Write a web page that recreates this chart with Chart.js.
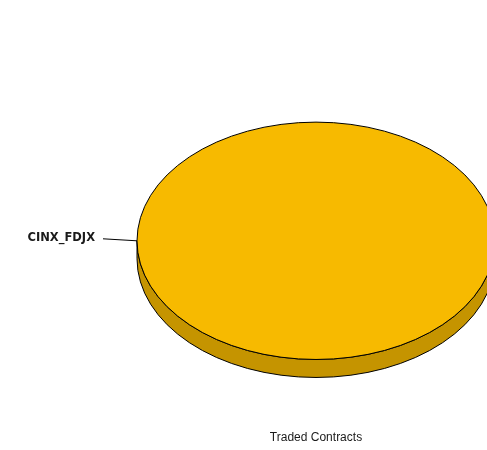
<!DOCTYPE html>
<html>
<head>
<meta charset="utf-8">
<script src="https://cdn.jsdelivr.net/npm/chart.js@4/dist/chart.umd.min.js"></script>
<style>
  html, body { margin: 0; padding: 0; background: #fff; overflow: hidden; }
  #wrap { width: 632px; height: 450px; }
</style>
</head>
<body>
<div id="wrap"><canvas id="pie_chart" width="632" height="450"></canvas></div>
<script>
// data
var contractNames = ["CINX_FDJX"];
var contractCounts = [1];
var sliceColors = ["#f7ba00"];
var sideColors = ["#c59400"];
var chartTitle = "Traded Contracts";

var tilt = 0.663;   // vertical squash of the pie
var depth = 18;     // thickness of the pie edge

// fake 3d: squash the arcs and paint the front wall under them
var pie3d = {
    id: 'pie3d',
    beforeDatasetsDraw: function (chart) {
        var ctx = chart.ctx;
        var arcs = chart.getDatasetMeta(0).data;
        if (!arcs.length) return;
        var cx = arcs[0].x, cy = arcs[0].y, r = arcs[0].outerRadius, ry = r * tilt;
        ctx.save();
        ctx.lineWidth = 1;
        ctx.strokeStyle = "#000";
        arcs.forEach(function (arc, i) {
            var s = arc.startAngle, e = arc.endAngle;
            // only the part that faces us (0..PI) gets a wall
            for (var k = -1; k <= 1; k++) {
                var a0 = Math.max(s, k * 2 * Math.PI);
                var a1 = Math.min(e, k * 2 * Math.PI + Math.PI);
                if (a1 <= a0) continue;
                ctx.beginPath();
                ctx.ellipse(cx, cy, r, ry, 0, a0, a1);
                ctx.ellipse(cx, cy + depth, r, ry, 0, a1, a0, true);
                ctx.closePath();
                ctx.fillStyle = sideColors[i % sideColors.length];
                ctx.fill();
                ctx.stroke();
            }
        });
        ctx.restore();
        ctx.save();
        ctx.translate(cx, cy);
        ctx.scale(1, tilt);
        ctx.translate(-cx, -cy);
    },
    afterDatasetsDraw: function (chart) {
        var ctx = chart.ctx;
        ctx.restore();
        var arcs = chart.getDatasetMeta(0).data;
        if (!arcs.length) return;
        var cx = arcs[0].x, cy = arcs[0].y, r = arcs[0].outerRadius, ry = r * tilt;
        ctx.save();
        ctx.lineWidth = 1;
        ctx.strokeStyle = "#000";
        ctx.beginPath();
        ctx.ellipse(cx, cy, r, ry, 0, 0, 2 * Math.PI);
        ctx.stroke();
        // labels with leader lines
        ctx.font = "bold 11.5px 'DejaVu Sans'";
        ctx.fillStyle = "#1a1a1a";
        ctx.textBaseline = "middle";
        arcs.forEach(function (arc, i) {
            var m = (arc.startAngle + arc.endAngle) / 2;
            var px = cx + r * Math.cos(m), py = cy + ry * Math.sin(m);
            var left = Math.cos(m) < 0;
            var ex = px + (left ? -34 : 34), ey = py - 2;
            ctx.beginPath();
            ctx.moveTo(px, py);
            ctx.lineTo(ex, ey);
            ctx.stroke();
            ctx.textAlign = left ? "right" : "left";
            ctx.fillText(chart.data.labels[i], ex + (left ? -8 : 8), ey - 0.5);
        });
        ctx.restore();
    }
};

var ctx1 = document.getElementById("pie_chart");
var myPieChart = new Chart(ctx1, {
    type: 'pie',
    data: {
        labels: contractNames,
        datasets: [{
            data: contractCounts,
            backgroundColor: sliceColors,
            borderWidth: 0,
            clip: false
        }]
    },
    options: {
        responsive: false,
        animation: false,
        rotation: 90,
        radius: 179,
        layout: { padding: { top: 61, bottom: 0 } },
        plugins: {
            legend: { display: false },
            tooltip: { enabled: false },
            title: {
                display: true,
                text: chartTitle,
                position: 'bottom',
                color: "#1a1a1a",
                font: { family: "'Liberation Sans', Arial, sans-serif", size: 12, weight: 'normal' },
                padding: { top: 10, bottom: 5 }
            }
        }
    },
    plugins: [pie3d]
});
</script>
</body>
</html>
